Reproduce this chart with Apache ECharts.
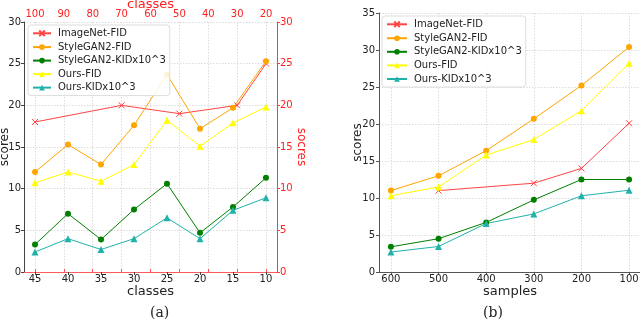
<!DOCTYPE html>
<html><head><meta charset="utf-8">
<script src="https://cdn.jsdelivr.net/npm/echarts@6/dist/echarts.min.js"></script>
<style>html,body{margin:0;padding:0;background:#fff;}#c{width:640px;height:319px;}</style>
</head><body><div id="c"></div>
<script>
// ---- Data (a) ----
const classesBottom = [45, 40, 35, 30, 25, 20, 15, 10];
const classesTop = [100, 90, 80, 70, 60, 50, 40, 30, 20];
const imagenetClasses = [100, 70, 50, 30, 20];
const imagenetFidA = [18.0, 20.0, 19.0, 20.0, 25.0];
const styleganFidA = [12.0, 15.3, 12.9, 17.6, 23.7, 17.2, 19.7, 25.3];
const styleganKidA = [3.3, 7.0, 3.9, 7.5, 10.6, 4.7, 7.8, 11.3];
const oursFidA = [10.7, 12.0, 10.9, 12.9, 18.2, 15.1, 17.9, 19.8];
const oursKidA = [2.4, 4.0, 2.7, 4.0, 6.5, 4.0, 7.4, 8.9];
const yTicksA = [0, 5, 10, 15, 20, 25, 30];
// ---- Data (b) ----
const samples = [600, 500, 400, 300, 200, 100];
const imagenetSamples = [500, 300, 200, 100];
const imagenetFidB = [11.0, 12.0, 14.0, 20.1];
const styleganFidB = [11.0, 13.0, 16.4, 20.7, 25.2, 30.4];
const styleganKidB = [3.4, 4.5, 6.7, 9.75, 12.5, 12.5];
const oursFidB = [10.3, 11.5, 15.8, 17.9, 21.8, 28.2];
const oursKidB = [2.7, 3.45, 6.55, 7.85, 10.3, 11.05];
const names = ['ImageNet-FID', 'StyleGAN2-FID', 'StyleGAN2-KIDx10^3', 'Ours-FID', 'Ours-KIDx10^3'];

const RED = '#ff4545', ORANGE = '#ffa500', GREEN = '#008000', YELLOW = '#ffff00', TEAL = '#20b2aa';
const FONT = 'DejaVu Sans';
const xSym = 'path://M0,0L10,10M10,0L0,10';

function pairs(xs, ys) { return xs.map((x, i) => [x, ys[i]]); }

function mk(name, color, symbol, data, xi, yi, isX) {
  return {
    type: 'line', name, data, xAxisIndex: xi, yAxisIndex: yi,
    symbol, symbolSize: isX ? 6 : (symbol === 'triangle' ? 7 : 6),
    lineStyle: { color, width: 1 },
    itemStyle: isX ? { color: 'none', borderColor: color, borderWidth: 1 } : { color },
    animation: false, z: 3
  };
}

const splitStyle = { show: true, lineStyle: { color: '#dcdcdc', type: [1.5, 1.5], width: 1 } };
const lab = { fontFamily: FONT, fontSize: 10, color: '#222' };
function nm(color, size) { return { fontFamily: FONT, fontSize: size, color, verticalAlign: 'middle', align: 'center' }; }

const chart = echarts.init(document.getElementById('c'), null, { renderer: 'canvas' });
chart.setOption({
  backgroundColor: '#fff',
  animation: false,
  grid: [
    { left: 24, top: 22, width: 253, height: 250, containLabel: false, outerBoundsMode: 'none' },
    { left: 379, top: 13, width: 262, height: 259, containLabel: false, outerBoundsMode: 'none' }
  ],
  xAxis: [
    { type: 'value', gridIndex: 0, inverse: true, min: 8.33, max: 46.67, position: 'bottom',
      axisLine: { show: true, lineStyle: { color: '#cfcfcf' } },
      axisTick: { show: true, length: 3, customValues: classesBottom, lineStyle: { color: '#444' } },
      axisLabel: { customValues: classesBottom, ...lab, margin: 2 },
      splitLine: { show: false },
      name: 'classes', nameLocation: 'middle', nameGap: 20, nameMoveOverlap: false, nameTextStyle: nm('#222', 13) },
    { type: 'value', gridIndex: 0, inverse: true, min: 16.2, max: 103.8, position: 'top',
      axisLine: { show: true, lineStyle: { color: '#ff5a5a' } },
      axisTick: { show: true, length: 3, customValues: classesTop, lineStyle: { color: '#ff5a5a' } },
      axisLabel: { customValues: classesTop, fontFamily: FONT, fontSize: 10, color: '#ff2020', margin: 3 },
      splitLine: splitStyle,
      name: 'classes', nameLocation: 'middle', nameGap: 17, nameMoveOverlap: false, nameTextStyle: nm('#ff2020', 13) },
    { type: 'value', gridIndex: 1, inverse: true, min: 75, max: 625,
      axisLine: { show: true, lineStyle: { color: '#555' } },
      axisTick: { show: true, length: 3, customValues: samples, lineStyle: { color: '#555' } },
      axisLabel: { customValues: samples, ...lab, margin: 2 },
      splitLine: splitStyle,
      name: 'samples', nameLocation: 'middle', nameGap: 20, nameMoveOverlap: false, nameTextStyle: nm('#222', 13) }
  ],
  yAxis: [
    { type: 'value', gridIndex: 0, min: 0, max: 30, interval: 5, position: 'left',
      axisLine: { show: true, lineStyle: { color: '#444' } },
      axisTick: { show: true, length: 3, lineStyle: { color: '#444' } },
      axisLabel: { ...lab, margin: 3 },
      splitLine: splitStyle,
      name: 'scores', nameLocation: 'middle', nameGap: 19, nameRotate: 90, nameMoveOverlap: false, nameTextStyle: nm('#222', 12) },
    { type: 'value', gridIndex: 0, min: 0, max: 30, interval: 5, position: 'right',
      axisLine: { show: true, lineStyle: { color: '#ff3b3b' } },
      axisTick: { show: true, length: 3, lineStyle: { color: '#ff3b3b' } },
      axisLabel: { fontFamily: FONT, fontSize: 10, color: '#ff2020', margin: 3 },
      splitLine: { show: false },
      name: 'socres', nameLocation: 'middle', nameGap: 24, nameRotate: -90, nameMoveOverlap: false, nameTextStyle: nm('#ff2020', 12) },
    { type: 'value', gridIndex: 1, min: 0, max: 35, interval: 5,
      axisLine: { show: true, lineStyle: { color: '#555' } },
      axisTick: { show: true, length: 3, lineStyle: { color: '#555' } },
      axisLabel: { ...lab, margin: 4 },
      splitLine: splitStyle,
      name: 'scores', nameLocation: 'middle', nameGap: 21, nameRotate: 90, nameMoveOverlap: false, nameTextStyle: nm('#222', 12) }
  ],
  legend: [
    { data: names, orient: 'vertical', left: 28, top: 25, itemGap: 3.5, itemWidth: 18, itemHeight: 7,
      padding: [3, 4, 3, 4], backgroundColor: 'rgba(255,255,255,0.85)', borderColor: '#dddddd', borderWidth: 1, borderRadius: 3,
      textStyle: { fontFamily: FONT, fontSize: 10, color: '#222', padding: [0, 0, 0, 2] }, selectedMode: false },
    { data: names, orient: 'vertical', left: 382, top: 16, itemGap: 3.6, itemWidth: 20, itemHeight: 7,
      padding: [3, 4, 3, 4], backgroundColor: 'rgba(255,255,255,0.85)', borderColor: '#dddddd', borderWidth: 1, borderRadius: 3,
      textStyle: { fontFamily: FONT, fontSize: 10, color: '#222', padding: [0, 0, 0, 2] }, selectedMode: false }
  ],
  graphic: [
    { type: 'text', left: 150, top: 306, style: { text: '(a)', font: '14px "DejaVu Serif"', fill: '#222' } },
    { type: 'text', left: 483, top: 306, style: { text: '(b)', font: '14px "DejaVu Serif"', fill: '#222' } }
  ],
  series: [
    mk(names[0], RED, xSym, pairs(imagenetClasses, imagenetFidA), 1, 0, true),
    mk(names[1], ORANGE, 'circle', pairs(classesBottom, styleganFidA), 0, 0),
    mk(names[2], GREEN, 'circle', pairs(classesBottom, styleganKidA), 0, 0),
    mk(names[3], YELLOW, 'triangle', pairs(classesBottom, oursFidA), 0, 0),
    mk(names[4], TEAL, 'triangle', pairs(classesBottom, oursKidA), 0, 0),
    mk(names[0], RED, xSym, pairs(imagenetSamples, imagenetFidB), 2, 2, true),
    mk(names[1], ORANGE, 'circle', pairs(samples, styleganFidB), 2, 2),
    mk(names[2], GREEN, 'circle', pairs(samples, styleganKidB), 2, 2),
    mk(names[3], YELLOW, 'triangle', pairs(samples, oursFidB), 2, 2),
    mk(names[4], TEAL, 'triangle', pairs(samples, oursKidB), 2, 2)
  ]
});
</script></body></html>
